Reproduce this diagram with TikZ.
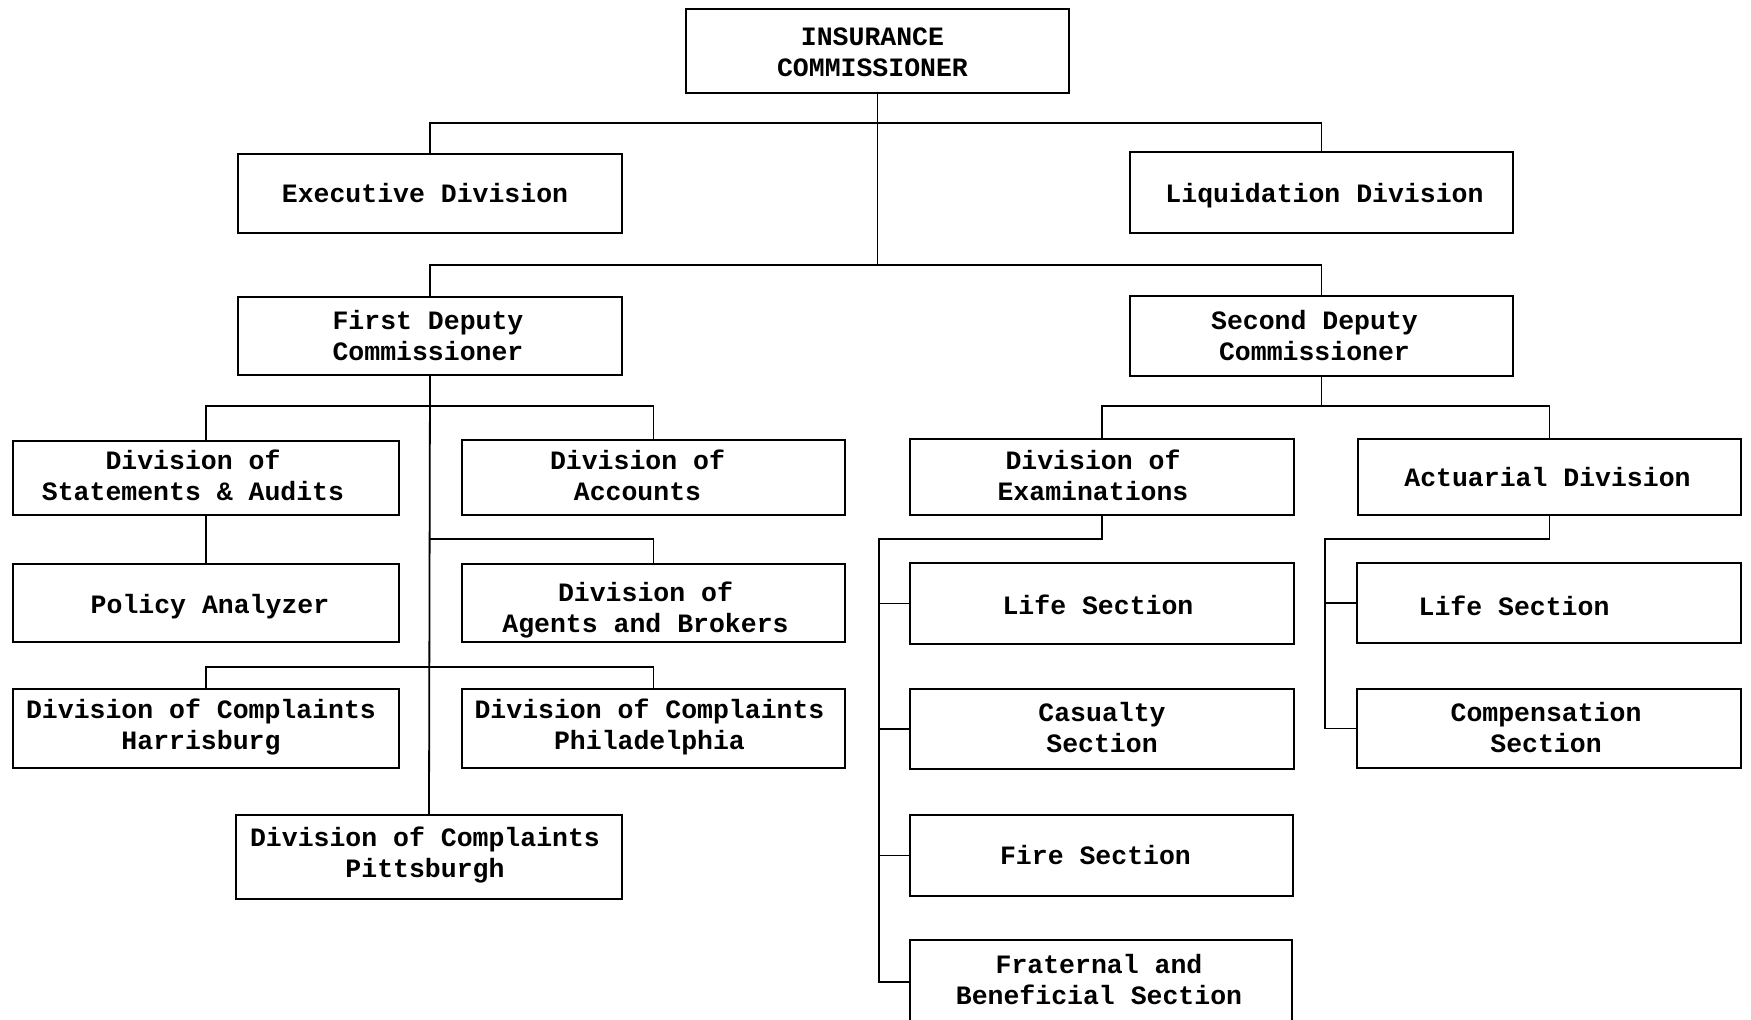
\documentclass[tikz,border=0pt]{standalone}
\usepackage{fontspec}
\newfontfamily\typewriter{Liberation Mono}
\begin{document}
\begin{tikzpicture}[x=1pt,y=-1pt,
  orgbox/.style={draw, line width=2.2pt, rectangle, inner sep=0pt},
  orgtext/.style={inner sep=0pt, align=center,
    font=\typewriter\bfseries\fontsize{26.5}{31}\selectfont,
    execute at begin node=\strut, execute at end node=\strut},
  link/.style={draw, line width=1.8pt}]
\useasboundingbox[fill=white] (0,0) rectangle (1751,1020);

% boxes: commissioner and his direct reports
\node[orgbox, minimum width=383, minimum height=84] (top) at (877.5,51) {};
\node[orgbox, minimum width=384, minimum height=79] (exec) at (430,193.5) {};
\node[orgbox, minimum width=383, minimum height=81] (liq) at (1321.5,192.5) {};
\node[orgbox, minimum width=384, minimum height=78] (fdep) at (430,336) {};
\node[orgbox, minimum width=383, minimum height=80] (sdep) at (1321.5,336) {};

% boxes: first deputy's divisions
\node[orgbox, minimum width=386, minimum height=74] (stat) at (206,478) {};
\node[orgbox, minimum width=383, minimum height=75] (acct) at (653.5,477.5) {};
\node[orgbox, minimum width=386, minimum height=78] (policy) at (206,603) {};
\node[orgbox, minimum width=383, minimum height=78] (agents) at (653.5,603) {};
\node[orgbox, minimum width=386, minimum height=79] (harris) at (206,728.5) {};
\node[orgbox, minimum width=383, minimum height=79] (phila) at (653.5,728.5) {};
\node[orgbox, minimum width=386, minimum height=84] (pitt) at (429,857) {};

% boxes: second deputy's divisions
\node[orgbox, minimum width=384, minimum height=76] (exam) at (1102,477) {};
\node[orgbox, minimum width=383, minimum height=76] (act) at (1549.5,477) {};
\node[orgbox, minimum width=384, minimum height=81] (life1) at (1102,603.5) {};
\node[orgbox, minimum width=384, minimum height=80] (cas) at (1102,729) {};
\node[orgbox, minimum width=383, minimum height=81] (fire) at (1101.5,855.5) {};
\node[orgbox, minimum width=382, minimum height=84] (frat) at (1101,982) {};
\node[orgbox, minimum width=384, minimum height=80] (life2) at (1549,603) {};
\node[orgbox, minimum width=384, minimum height=79] (comp) at (1549,728.5) {};

% typed labels, set a little off centre as on the typewriter
\node[orgtext] (top-t)    at ([xshift=-5,yshift=-6]top.center)     {INSURANCE\\COMMISSIONER};
\node[orgtext] (exec-t)   at ([xshift=-5,yshift=-3]exec.center)    {Executive Division};
\node[orgtext] (liq-t)    at ([xshift=3,yshift=-4]liq.center)      {Liquidation Division};
\node[orgtext] (fdep-t)   at ([xshift=-2,yshift=-4]fdep.center)    {First Deputy\\Commissioner};
\node[orgtext] (sdep-t)   at ([xshift=-7,yshift=-4]sdep.center)    {Second Deputy\\Commissioner};
\node[orgtext] (stat-t)   at ([xshift=-13,yshift=-2]stat.center)   {Division of\\Statements \& Audits};
\node[orgtext] (acct-t)   at ([xshift=-16,yshift=-2]acct.center)   {Division of\\Accounts};
\node[orgtext] (policy-t) at ([xshift=4,yshift=-4]policy.center)   {Policy Analyzer};
\node[orgtext] (agents-t) at ([xshift=-8,yshift=-9]agents.center)  {Division of\\Agents and Brokers};
\node[orgtext] (harris-t) at ([xshift=-5]harris.center)            {Division of Complaints\\Harrisburg};
\node[orgtext] (phila-t)  at ([xshift=-4]phila.center)             {Division of Complaints\\Philadelphia};
\node[orgtext] (pitt-t)   at ([xshift=-4]pitt.center)              {Division of Complaints\\Pittsburgh};
\node[orgtext] (exam-t)   at ([xshift=-9,yshift=-3]exam.center)    {Division of\\Examinations};
\node[orgtext] (act-t)    at ([xshift=-2,yshift=-3]act.center)     {Actuarial Division};
\node[orgtext] (life1-t)  at ([xshift=-4,yshift=-5]life1.center)   {Life Section};
\node[orgtext] (cas-t)    at ([yshift=-3]cas.center)               {Casualty\\Section};
\node[orgtext] (fire-t)   at ([xshift=-6,yshift=-3]fire.center)    {Fire Section};
\node[orgtext] (frat-t)   at ([xshift=-2,yshift=-2]frat.center)    {Fraternal and\\Beneficial Section};
\node[orgtext] (life2-t)  at ([xshift=-35,yshift=-6]life2.center)  {Life Section};
\node[orgtext] (comp-t)   at ([xshift=-3,yshift=-4]comp.center)    {Compensation\\Section};

% bus levels and side rails
\coordinate (barA) at (0,123);
\coordinate (barB) at (0,265);
\coordinate (barC) at (0,406);
\coordinate (barD) at (0,539);
\coordinate (barE) at (0,667);
\coordinate (railL) at (879,0);
\coordinate (railR) at (1325,0);

% commissioner level
\draw[link] (top.south) -- (top.south |- barB);
\draw[link] (exec.north) -- (exec.north |- barA) -| (liq.north);
\draw[link] (fdep.north) -- (fdep.north |- barB) -| (sdep.north);

% first deputy branch
\draw[link] (fdep.south) -- (pitt.north);
\draw[link] (stat.north) -- (stat.north |- barC) -| (acct.north);
\draw[link] (stat.south) -- (policy.north);
\draw[link] (fdep.south |- barD) -| (agents.north);
\draw[link] (harris.north) -- (harris.north |- barE) -| (phila.north);

% second deputy branch
\draw[link] (sdep.south) -- (sdep.south |- barC);
\draw[link] (exam.north) -- (exam.north |- barC) -| (act.north);

% examinations sections
\draw[link] (exam.south) -- (exam.south |- barD) -| (railL |- frat.west) -- (frat.west);
\draw[link] (railL |- life1.west) -- (life1.west);
\draw[link] (railL |- cas.west) -- (cas.west);
\draw[link] (railL |- fire.west) -- (fire.west);

% actuarial sections
\draw[link] (act.south) -- (act.south |- barD) -| (railR |- comp.west) -- (comp.west);
\draw[link] (railR |- life2.west) -- (life2.west);
\end{tikzpicture}
\end{document}
